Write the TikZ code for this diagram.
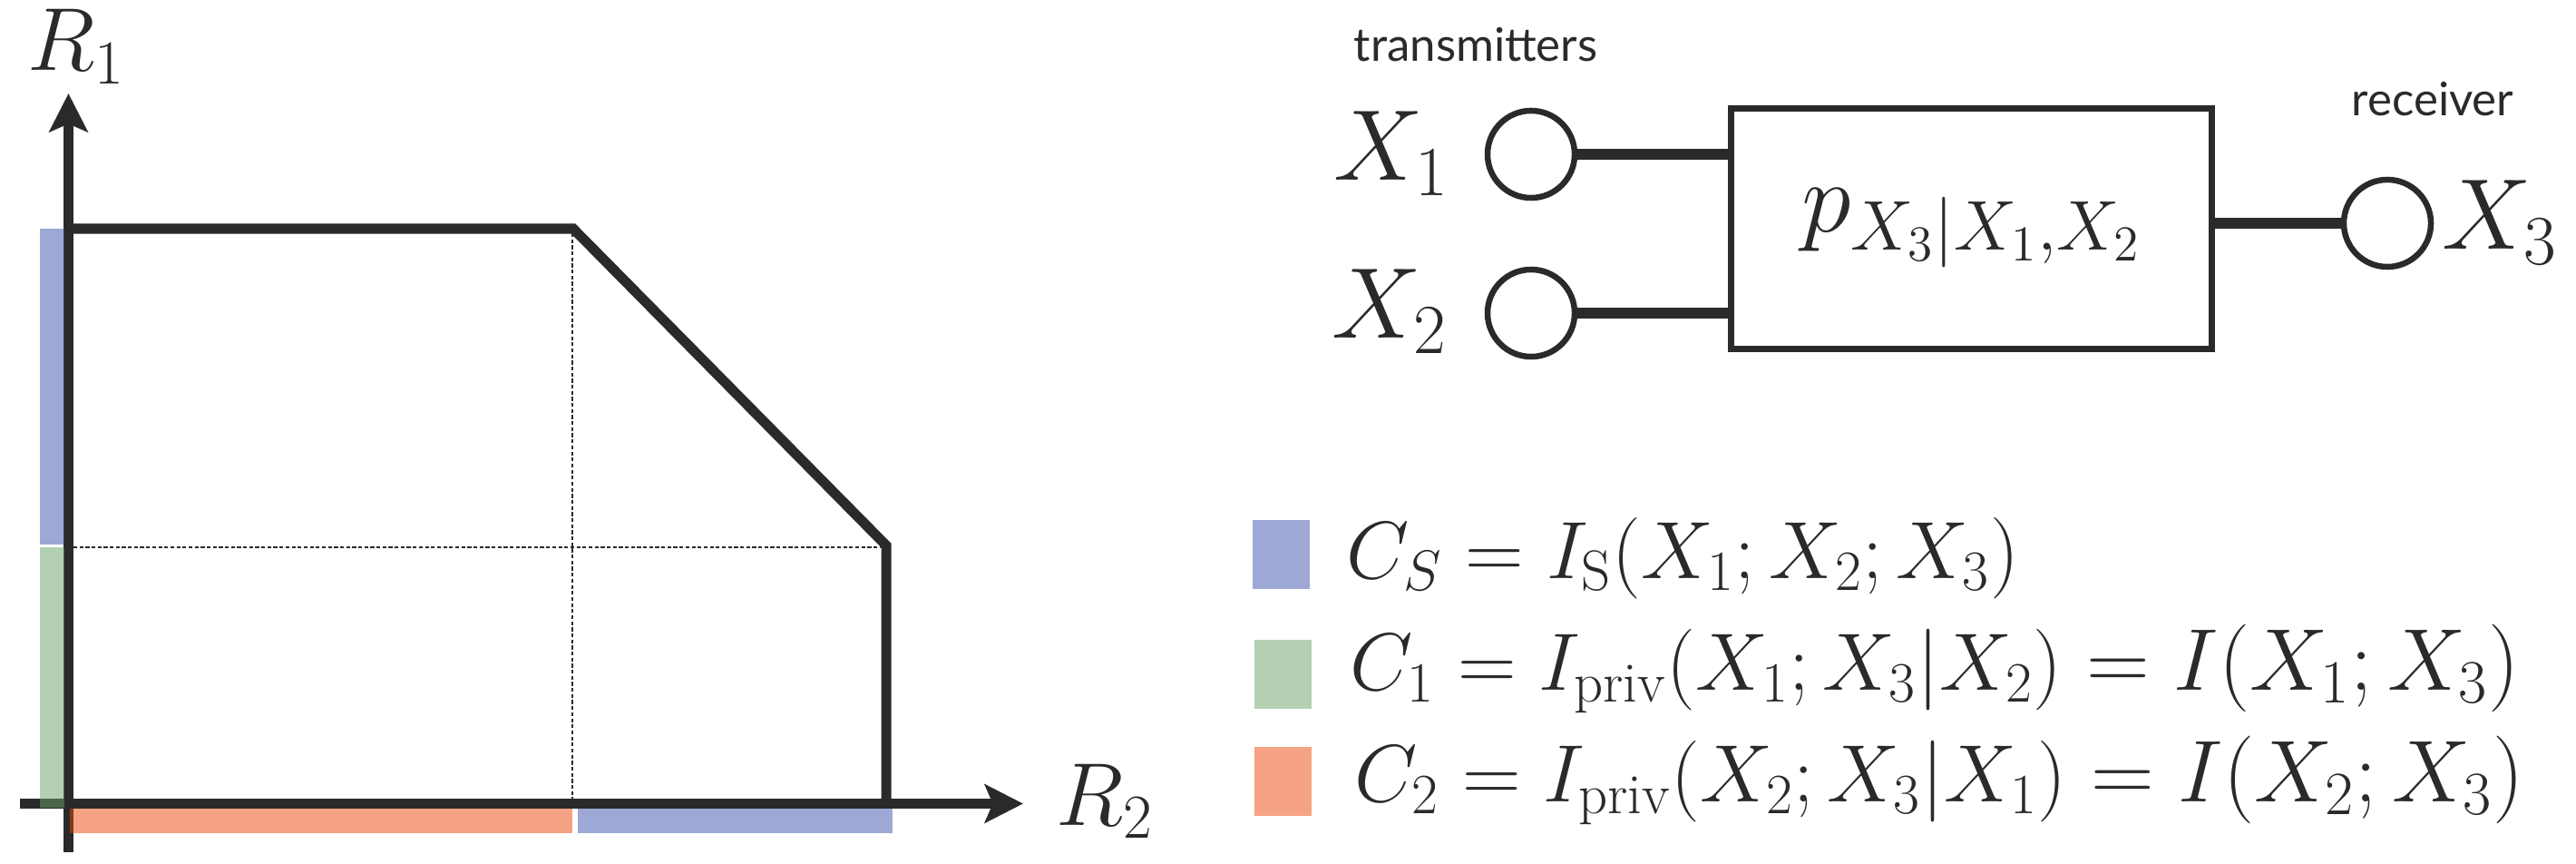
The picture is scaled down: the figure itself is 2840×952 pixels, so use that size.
\RequirePackage{fix-cm}
\documentclass[tikz,border=0pt]{standalone}
\usepackage{fontspec}
\newfontfamily\labelfont{Lato}
\usetikzlibrary{arrows.meta}
\definecolor{ink}{HTML}{2A2A2A}
\definecolor{cblue}{RGB}{59,81,171}
\definecolor{cgreen}{RGB}{103,161,103}
\definecolor{corange}{RGB}{237,69,9}
\definecolor{lblue}{HTML}{9DA8D5}
\definecolor{lgreen}{HTML}{B3D0B3}
\definecolor{lorange}{HTML}{F6A284}
\tikzset{
  axisline/.style={draw=ink, line width=3.13pt, -{Stealth[length=12pt,width=12pt,inset=2.5pt]}},
  regionline/.style={draw=ink, line width=3.13pt, line join=miter},
  guideline/.style={draw=ink, line width=0.55pt, dash pattern=on 1.2pt off 0.7pt},
  barfill/.style={fill opacity=0.5},
  port/.style={circle, draw=ink, line width=1.85pt, minimum size=0.96cm, inner sep=0pt},
  wire/.style={draw=ink, line width=3.4pt},
  chanbox/.style={rectangle, draw=ink, line width=2pt, minimum width=5.30cm, minimum height=2.645cm, inner sep=0pt},
  bigmath/.style={text=ink, inner sep=0pt, font=\fontsize{31.5}{36}\selectfont},
  axlabel/.style={text=ink, inner sep=0pt, font=\fontsize{28}{33}\selectfont},
  chanlabel/.style={text=ink, inner sep=0pt, font=\fontsize{31.5}{36}\selectfont},
  smalllabel/.style={text=ink, inner sep=0pt, font=\labelfont\fontsize{14.5}{17}\selectfont},
  keybox/.style={rectangle, draw=none, minimum width=0.63cm, minimum height=0.76cm, inner sep=0pt},
  legendtext/.style={text=ink, inner sep=0pt, font=\fontsize{25.5}{30}\selectfont},
}
\newcommand{\bigpart}[1]{{\fontsize{27.5}{32}\selectfont #1}}
\begin{document}
\begin{tikzpicture}[x=0.01cm, y=-0.01cm]
\useasboundingbox (0,0) rectangle (2840,952);

% ---------- rate region ----------
\coordinate (ybot) at (75.5,939);
\coordinate (ytop) at (75.5,103);
\coordinate (xleft) at (22,885.5);
\coordinate (xright) at (1128,885.5);
\coordinate (A) at (70,252);
\coordinate (B) at (632,252);
\coordinate (C) at (977,601);
\coordinate (D) at (977,880);
\coordinate (gvt) at (631,257);
\coordinate (gvb) at (631,880);
\coordinate (ghl) at (81,603);
\coordinate (ghr) at (971,603);

\draw[guideline] (gvt) -- (gvb);
\draw[guideline] (ghl) -- (ghr);
\draw[axisline] (ybot) -- (ytop);
\draw[axisline] (xleft) -- (xright);
\draw[regionline] (A) -- (B) -- (C) -- (D);

\fill[cblue, barfill] (44,252) rectangle (71,600);
\fill[cgreen, barfill] (44,603) rectangle (71,890);
\fill[corange, barfill] (77,891) rectangle (631,918);
\fill[cblue, barfill] (637,891) rectangle (984,918);

\node[axlabel, anchor=base west] (r1) at (30,78) {$R_1$};
\node[axlabel, anchor=base west] (r2) at (1164,909) {$R_2$};

% ---------- channel diagram ----------
\node[smalllabel, anchor=base west] (tx) at (1492,68) {transmitters};
\node[smalllabel, anchor=base west] (rx) at (2592,128) {receiver};

\node[port] (c1) at (1688,170) {};
\node[port] (c2) at (1688,345) {};
\node[port] (c3) at (2632,246) {};
\node[chanbox] (ch) at (2173.5,251.75) {};
\node[chanlabel] (pl) at (ch.center) {$p_{X_3|X_1,X_2}$};

\draw[wire] (c1.east) -- (c1.east -| ch.west);
\draw[wire] (c2.east) -- (c2.east -| ch.west);
\draw[wire] (ch.east |- c3.west) -- (c3.west);

\node[bigmath, anchor=base west] (x1) at (1470,199) {$X_1$};
\node[bigmath, anchor=base west] (x2) at (1468,373) {$X_2$};
\node[bigmath, anchor=base west] (x3) at (2692,275) {$X_3$};

% ---------- legend ----------
\node[keybox, fill=lblue] (k1) at (1412.5,611) {};
\node[keybox, fill=lgreen] (k2) at (1414.5,743) {};
\node[keybox, fill=lorange] (k3) at (1414.5,861) {};

\node[legendtext, anchor=base west] (l1) at (1484,637) {$C_S = I_{\mathrm{S}}(X_1;X_2;X_3)$};
\node[legendtext, anchor=base west] (l2) at (1488,760) {$C_1 = I_{\mathrm{priv}}(X_1;X_3|X_2)$\bigpart{${}= I(X_1;X_3)$}};
\node[legendtext, anchor=base west] (l3) at (1493,883) {$C_2 = I_{\mathrm{priv}}(X_2;X_3|X_1)$\bigpart{${}= I(X_2;X_3)$}};
\end{tikzpicture}
\end{document}
